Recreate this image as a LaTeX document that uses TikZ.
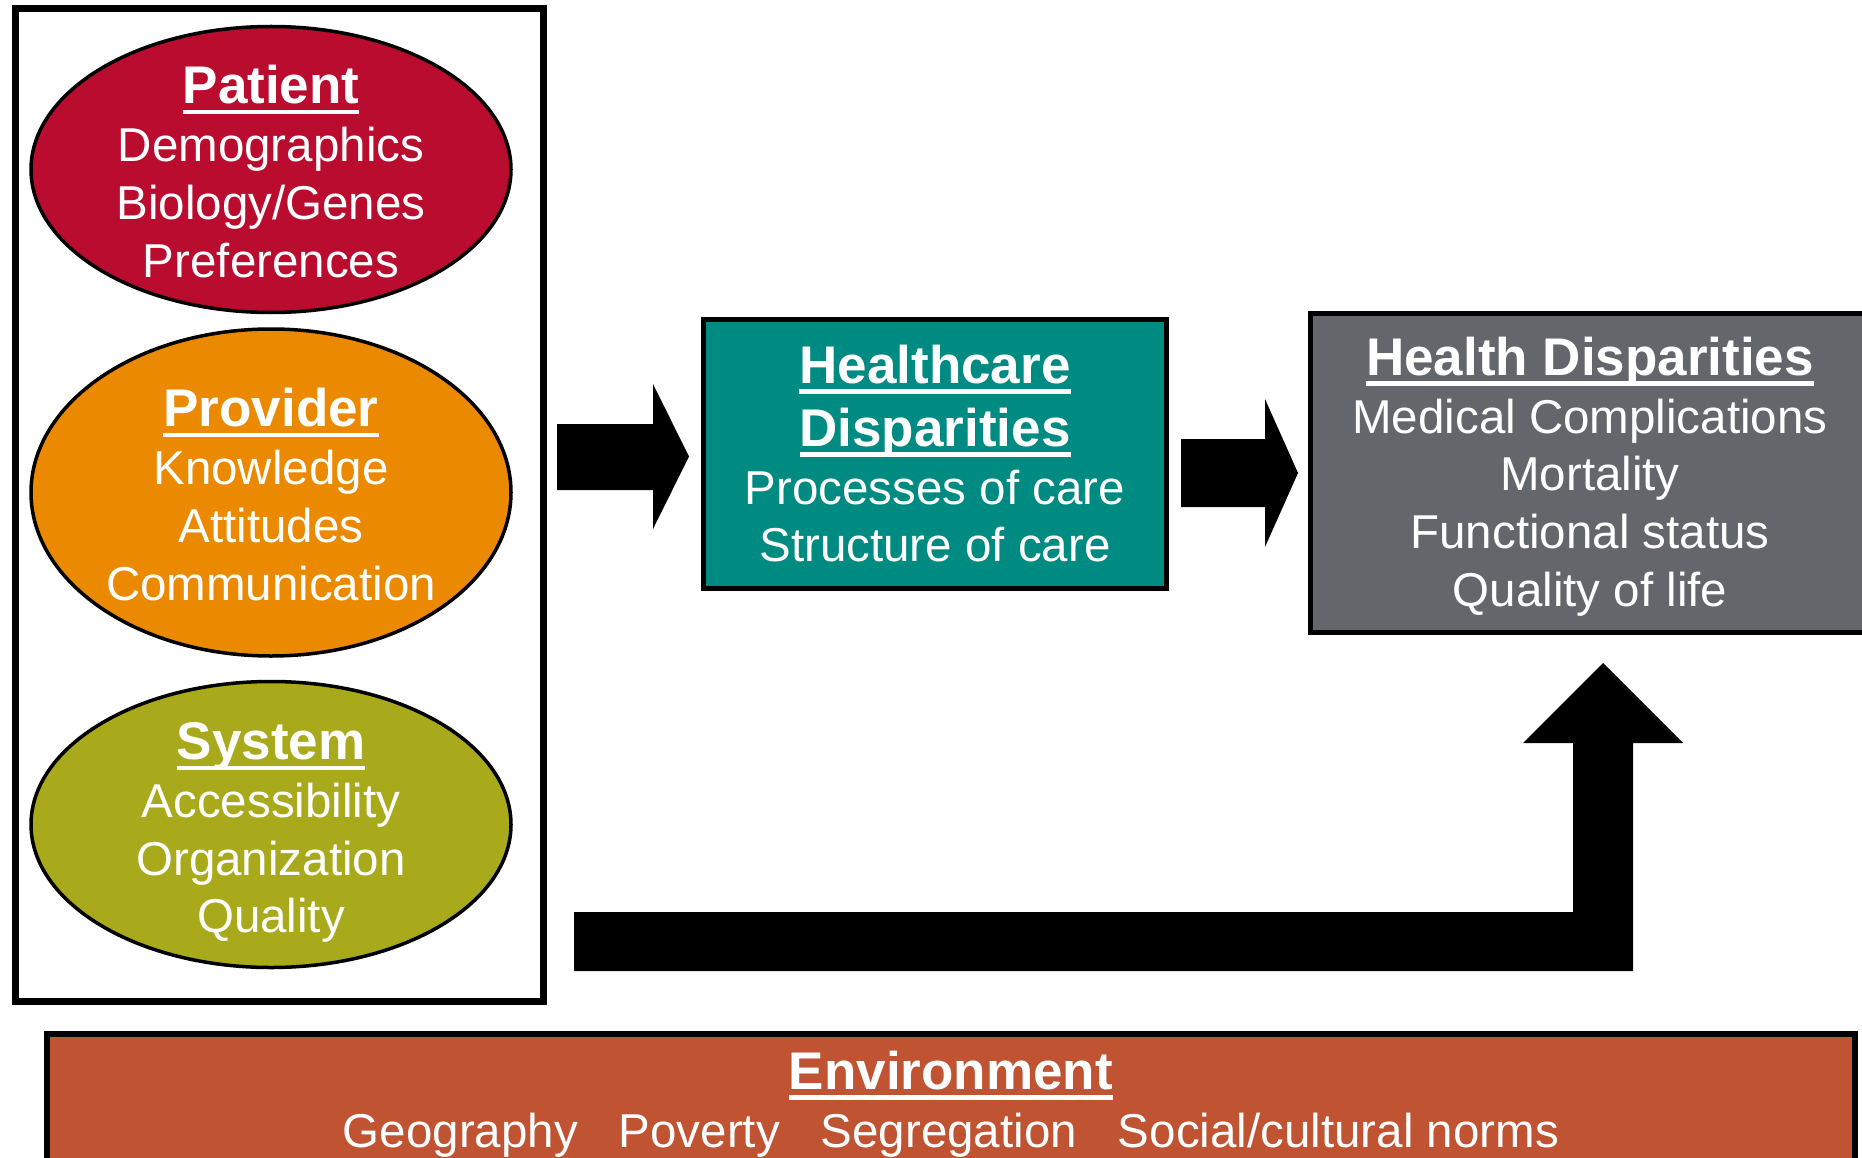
\documentclass[tikz,border=0pt]{standalone}
\usepackage{fontspec}
\setmainfont{Liberation Sans}
\usetikzlibrary{shapes.geometric}

\definecolor{patientred}{HTML}{BA0C2F}
\definecolor{providerorange}{HTML}{EB8A00}
\definecolor{systemolive}{HTML}{A8AA1B}
\definecolor{careteal}{HTML}{008B82}
\definecolor{outcomegray}{HTML}{63666A}
\definecolor{envrust}{HTML}{C05332}

% bold heading with a thick underline; its height is fixed at cap height
\newcommand\hdr[1]{\setbox0=\hbox{\fontsize{53}{58}\selectfont\bfseries #1}%
  \ht0=37.4pt\rlap{\rule[-10.5pt]{\wd0}{4.5pt}}\box0}

\tikzset{
  factor/.style={ellipse, draw=black, line width=3.5pt, minimum width=480pt, inner sep=0pt},
  panel/.style={rectangle, draw=black, inner sep=0pt},
  lbltext/.style={text=white, align=center, anchor=north, inner sep=0pt,
    font=\fontsize{47.5}{57.8}\selectfont},
  blockarrow/.style={fill=black},
}

\begin{document}
\begin{tikzpicture}[x=1pt,y=-1pt]
\useasboundingbox (0,0) rectangle (1862,1158);

% frame around the three factor groups
\node[panel, line width=7pt, minimum width=528pt, minimum height=992.7pt] (factors) at (279.2,505.15) {};

% factor ellipses
\node[factor, fill=patientred, minimum height=286pt] (patient) at (271,169.5) {};
\node[lbltext] (patient-text) at (271,66.2)
  {\hdr{Patient}\\ Demographics\\ Biology/Genes\\ Preferences};

\node[factor, fill=providerorange, minimum height=327pt] (provider) at (271,492.5) {};
\node[lbltext] (provider-text) at (271,389.3)
  {\hdr{Provider}\\ Knowledge\\ Attitudes\\ Communication};

\node[factor, fill=systemolive, minimum height=286pt] (system) at (271,824.5) {};
\node[lbltext] (system-text) at (271,721.9)
  {\hdr{System}\\ Accessibility\\ Organization\\ Quality};

% healthcare disparities
\node[panel, fill=careteal, line width=5pt, minimum width=463pt, minimum height=269pt] (care) at (935,454) {};
\node[lbltext] (care-text) at (935,345.6)
  {\hdr{Healthcare}\\[5.2pt] \hdr{Disparities}\\ Processes of care\\ Structure of care};

% health disparities
\node[panel, fill=outcomegray, line width=5pt, minimum width=559pt, minimum height=319pt] (outcome) at (1590,473) {};
\node[lbltext] (outcome-text) at (1590,337.6)
  {\hdr{Health Disparities}\\ Medical Complications\\ Mortality\\ Functional status\\ Quality of life};

% environment band
\node[panel, fill=envrust, line width=6pt, minimum width=1807.7pt, minimum height=200pt] (environment) at (950.9,1133.7) {};
\node[lbltext] (environment-text) at (950.9,1051.6)
  {\hdr{Environment}\\ Geography\hspace{41pt}Poverty\hspace{41pt}Segregation\hspace{41pt}Social/cultural norms};

% block arrows
\fill[blockarrow] (557,424) -- (653,424) -- (653,384) -- (689,456.5) -- (653,529) -- (653,490) -- (557,490) -- cycle;
\fill[blockarrow] (1181,439) -- (1265,439) -- (1265,399) -- (1298,473) -- (1265,547) -- (1265,507) -- (1181,507) -- cycle;
\fill[blockarrow] (574,912) -- (1573,912) -- (1573,743) -- (1523,743) -- (1603,663) -- (1683,743) -- (1633,743) -- (1633,971) -- (574,971) -- cycle;
\end{tikzpicture}
\end{document}
